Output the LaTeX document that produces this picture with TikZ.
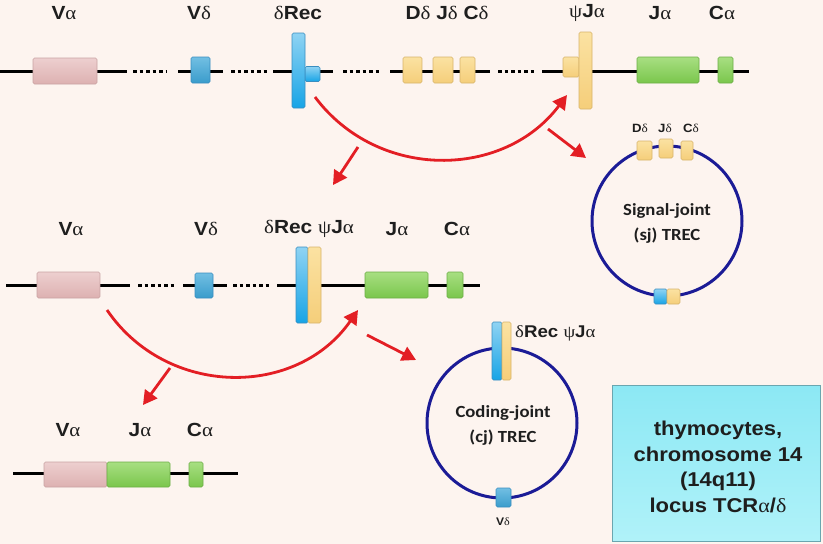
\documentclass[tikz,border=0pt]{standalone}
\usepackage{fontspec}
\setmainfont{Liberation Sans}[FakeStretch=1.1]
\newfontfamily\grk{Liberation Serif}[FakeStretch=1.1]
\newfontfamily\carl{Carlito}[FakeStretch=1.1]
\usetikzlibrary{arrows.meta}
\newcommand{\gra}{{\grk\mdseries α}}
\newcommand{\grd}{{\grk\mdseries δ}}
\newcommand{\grp}{{\grk\mdseries ψ}}
\definecolor{bgc}{HTML}{FDF4EF}
\definecolor{txt}{HTML}{1E1E1E}
\definecolor{pinkt}{HTML}{EDCFCF}
\definecolor{pinkb}{HTML}{DDB1B1}
\definecolor{pinkd}{HTML}{C9A3A3}
\definecolor{bluet}{HTML}{8FD3F3}
\definecolor{blueb}{HTML}{17A4E6}
\definecolor{blued}{HTML}{3A8EC0}
\definecolor{tealt}{HTML}{72BFE3}
\definecolor{tealb}{HTML}{3A9CCB}
\definecolor{yelt}{HTML}{FBE2A2}
\definecolor{yelb}{HTML}{F5CE7A}
\definecolor{yeld}{HTML}{D8B46A}
\definecolor{grnt}{HTML}{A8DF82}
\definecolor{grnb}{HTML}{7AC64C}
\definecolor{grnd}{HTML}{6CAE46}
\definecolor{redc}{HTML}{E31E24}
\definecolor{navy}{HTML}{1B1B96}
\definecolor{cyant}{HTML}{8CE8F4}
\definecolor{cyanb}{HTML}{B0F2F9}
\definecolor{cyand}{HTML}{6AA6B0}
\tikzset{
  gene/.style={draw, line width=0.6pt, inner sep=0pt, outer sep=0pt, rounded corners=1.5pt},
  pinkbox/.style={gene, draw=pinkd, top color=pinkt, bottom color=pinkb},
  tealbox/.style={gene, draw=blued, top color=tealt, bottom color=tealb},
  bluebar/.style={gene, draw=blued, top color=bluet, bottom color=blueb},
  yelbox/.style={gene, draw=yeld, top color=yelt, bottom color=yelb},
  grnbox/.style={gene, draw=grnd, top color=grnt, bottom color=grnb},
  chrom/.style={line width=3pt, black},
  gap/.style={line width=3pt, black, dash pattern=on 3.5pt off 3pt},
  lab/.style={inner sep=0pt, text=txt, font=\bfseries\fontsize{19}{22}\selectfont},
  slab/.style={inner sep=0pt, text=txt, font=\bfseries\fontsize{12}{14}\selectfont},
  ctext/.style={inner sep=0pt, text=txt, align=center, font=\carl\bfseries\fontsize{17}{25}\selectfont},
  ring/.style={draw=navy, line width=3pt},
  rarrow/.style={draw=redc, line width=2.8pt, -{Triangle[length=14pt,width=15pt]}},
  infobox/.style={draw=cyand, line width=0.8pt, top color=cyant, bottom color=cyanb, inner sep=0pt},
  infotext/.style={inner sep=0pt, align=center, text=txt, font=\bfseries\fontsize{20}{25.5}\selectfont}
}
\begin{document}
\begin{tikzpicture}[x=1pt,y=-1pt]
\fill[bgc] (0,0) rectangle (823,544);
\useasboundingbox (0,0) rectangle (823,544);

% ---------- top row ----------
\draw[chrom] (0,71) -- (127,71);
\draw[gap] (133,71) -- (167,71);
\draw[chrom] (178,71) -- (223,71);
\draw[gap] (231,71) -- (268,71);
\draw[chrom] (273,71) -- (333,71);
\draw[gap] (343,71) -- (379,71);
\draw[chrom] (390,71) -- (490,71);
\draw[gap] (498,71) -- (535,71);
\draw[chrom] (542,71) -- (749,71);

\node[pinkbox, minimum width=64pt, minimum height=26pt] (vaT) at (65,71) {};
\node[tealbox, minimum width=19pt, minimum height=26pt] (vdT) at (200.5,70) {};
\node[bluebar, minimum width=15pt, minimum height=15pt] (drT2) at (312.5,74) {};
\node[bluebar, minimum width=13pt, minimum height=75pt] (drT) at (298.5,70.5) {};
\node[yelbox, minimum width=19pt, minimum height=26pt] (ddT) at (412.5,70) {};
\node[yelbox, minimum width=20pt, minimum height=26pt] (jdT) at (443,70) {};
\node[yelbox, minimum width=15pt, minimum height=26pt] (cdT) at (467.5,70) {};
\node[yelbox, minimum width=16pt, minimum height=20pt] (pjT2) at (571,67) {};
\node[yelbox, minimum width=13pt, minimum height=77pt] (pjT) at (585.5,70.5) {};
\node[grnbox, minimum width=62pt, minimum height=26pt] (jaT) at (668,70) {};
\node[grnbox, minimum width=15pt, minimum height=26pt] (caT) at (725.5,70) {};

\node[lab] (lvaT) at (64,13) {V\gra};
\node[lab] (lvdT) at (199,13) {V\grd};
\node[lab] (ldrT) at (298,13) {\grd Rec};
\node[lab] (ldjcT) at (447,13) {D\grd{} J\grd{} C\grd};
\node[lab] (lpjT) at (587,13) {\grp J\gra};
\node[lab] (ljaT) at (660,13) {J\gra};
\node[lab] (lcaT) at (722,13) {C\gra};

% ---------- signal-joint circle ----------
\node[ring, circle, minimum size=150pt, inner sep=0pt] (sj) at (667,221) {};
\node[ctext] (sjt) at (667,223) {Signal-joint\\(sj) TREC};
\node[yelbox, minimum width=15pt, minimum height=19pt] (ddC) at (644.5,150.5) {};
\node[yelbox, minimum width=14pt, minimum height=19pt] (jdC) at (666,148.5) {};
\node[yelbox, minimum width=12pt, minimum height=19pt] (cdC) at (687,150.5) {};
\node[slab] (lddC) at (640,128) {D\grd};
\node[slab] (ljdC) at (665,128) {J\grd};
\node[slab] (lcdC) at (691,128) {C\grd};
\node[bluebar, minimum width=13pt, minimum height=15pt] (sjb) at (660.5,296.5) {};
\node[yelbox, minimum width=13pt, minimum height=15pt] (sjy) at (673.5,296.5) {};

% ---------- middle row ----------
\draw[chrom] (6,285) -- (130,285);
\draw[gap] (138,285) -- (175,285);
\draw[chrom] (183,285) -- (227,285);
\draw[gap] (233,285) -- (270,285);
\draw[chrom] (277,285) -- (480,285);

\node[pinkbox, minimum width=63pt, minimum height=26pt] (vaM) at (68.5,285) {};
\node[tealbox, minimum width=18pt, minimum height=25pt] (vdM) at (204,285.5) {};
\node[bluebar, minimum width=12pt, minimum height=76pt] (drM) at (302,285) {};
\node[yelbox, minimum width=13pt, minimum height=76pt] (pjM) at (314.5,285) {};
\node[grnbox, minimum width=63pt, minimum height=26pt] (jaM) at (396.5,285) {};
\node[grnbox, minimum width=16pt, minimum height=26pt] (caM) at (455,285) {};

\node[lab] (lvaM) at (71,229) {V\gra};
\node[lab] (lvdM) at (206,229) {V\grd};
\node[lab] (ldrM) at (309,229) {\grd Rec \grp J\gra};
\node[lab] (ljaM) at (397,229) {J\gra};
\node[lab] (lcaM) at (457,229) {C\gra};

% ---------- coding-joint circle ----------
\node[ring, circle, minimum size=150pt, inner sep=0pt] (cj) at (502,423) {};
\node[ctext] (cjt) at (503,425) {Coding-joint\\(cj) TREC};
\node[bluebar, minimum width=10pt, minimum height=58pt] (cjb) at (497,351) {};
\node[yelbox, minimum width=9pt, minimum height=58pt] (cjy) at (506.5,351) {};
\node[lab, anchor=west, font=\bfseries\fontsize{17}{20}\selectfont] (lcj) at (515,333) {\grd Rec \grp J\gra};
\node[tealbox, minimum width=15pt, minimum height=19pt] (cjv) at (503.5,497.5) {};
\node[slab, font=\bfseries\fontsize{11}{13}\selectfont] (lcjv) at (503,522) {V\grd};

% ---------- bottom row ----------
\draw[chrom] (13,473) -- (238,473);
\node[pinkbox, minimum width=63pt, minimum height=25pt] (vaB) at (75.5,474.5) {};
\node[grnbox, minimum width=63pt, minimum height=25pt] (jaB) at (138.5,474.5) {};
\node[grnbox, minimum width=14pt, minimum height=25pt] (caB) at (196,474.5) {};
\node[lab] (lvaB) at (68,430) {V\gra};
\node[lab] (ljaB) at (140,430) {J\gra};
\node[lab] (lcaB) at (200,430) {C\gra};

% ---------- info box ----------
\node[infobox, minimum width=208pt, minimum height=156pt] (info) at (716,463) {};
\node[infotext] (infot) at (718,467)
  {thymocytes,\\chromosome 14\\(14q11)\\locus TCR\gra/\grd};

% ---------- red arrows ----------
\coordinate (a1s) at (315,97);
\coordinate (a1e) at (567,95);
\draw[rarrow] (a1s) .. controls (378,181) and (504,179) .. (a1e);
\coordinate (a3s) at (358,147);
\coordinate (a3e) at (333,185);
\draw[rarrow] (a3s) -- (a3e);
\coordinate (a4s) at (548,129);
\coordinate (a4e) at (586,158);
\draw[rarrow] (a4s) -- (a4e);
\coordinate (a2s) at (107,310);
\coordinate (a2e) at (358,310);
\draw[rarrow] (a2s) .. controls (167,398) and (297,398) .. (a2e);
\coordinate (a5s) at (170,368);
\coordinate (a5e) at (143,405);
\draw[rarrow] (a5s) -- (a5e);
\coordinate (a6s) at (367,335);
\coordinate (a6e) at (416,360);
\draw[rarrow] (a6s) -- (a6e);
\end{tikzpicture}
\end{document}
